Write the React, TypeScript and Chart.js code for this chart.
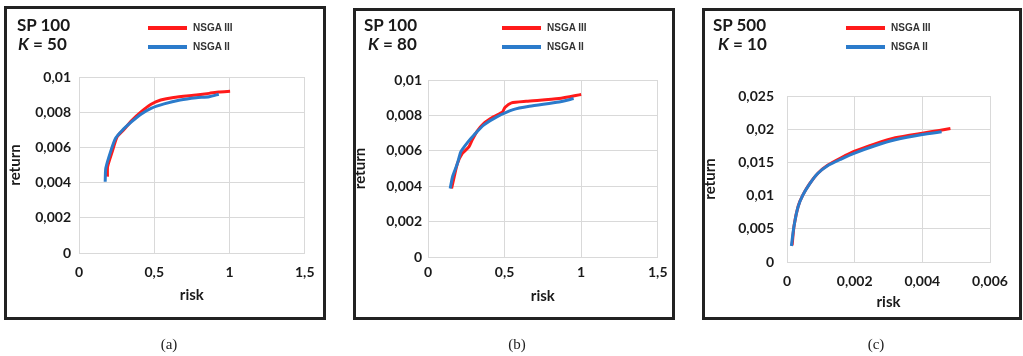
import React, { useEffect, useRef } from 'react';
import { Chart, registerables } from 'chart.js';

Chart.register(...registerables);

// ---------- DATA ----------
const seriesNames = ['NSGA III', 'NSGA II'];

// Panel (a) SP 100, K = 50
const riskA_III = [0.189, 0.19, 0.221, 0.253, 0.296, 0.35, 0.414, 0.479, 0.543, 0.629, 0.779, 0.865, 0.929, 1.004];
const returnA_III = [0.00434, 0.0049, 0.00576, 0.0066, 0.00699, 0.00752, 0.00803, 0.00845, 0.00869, 0.00884, 0.00898, 0.00907, 0.00915, 0.00919];
const riskA_II = [0.174, 0.178, 0.21, 0.243, 0.285, 0.35, 0.414, 0.479, 0.565, 0.672, 0.779, 0.865, 0.929];
const returnA_II = [0.00405, 0.00481, 0.00576, 0.00652, 0.00695, 0.00746, 0.0079, 0.00822, 0.00847, 0.00869, 0.00882, 0.00888, 0.00902];

// Panel (b) SP 100, K = 80
const riskB_III = [0.154, 0.171, 0.192, 0.224, 0.267, 0.288, 0.32, 0.363, 0.427, 0.487, 0.502, 0.545, 0.641, 0.855, 1.0];
const returnB_III = [0.00387, 0.00453, 0.00528, 0.00585, 0.00622, 0.0066, 0.0071, 0.00754, 0.00792, 0.0082, 0.00845, 0.00871, 0.0088, 0.00895, 0.00918];
const riskB_II = [0.145, 0.16, 0.192, 0.214, 0.256, 0.299, 0.363, 0.449, 0.556, 0.662, 0.855, 0.951];
const returnB_II = [0.00387, 0.00453, 0.00528, 0.00594, 0.00645, 0.00688, 0.00745, 0.00792, 0.00833, 0.00852, 0.00876, 0.00895];

// Panel (c) SP 500, K = 10
const riskC_III = [0.00015, 0.00021, 0.00033, 0.00047, 0.00067, 0.00092, 0.00121, 0.0016, 0.002, 0.0026, 0.0032, 0.004, 0.0045, 0.00483];
const returnC_III = [0.0025, 0.0055, 0.0084, 0.0101, 0.0118, 0.0134, 0.0146, 0.0157, 0.0167, 0.0178, 0.0187, 0.0194, 0.0198, 0.0201];
const riskC_II = [0.00013, 0.0002, 0.00032, 0.00046, 0.00066, 0.0009, 0.0012, 0.0016, 0.002, 0.0026, 0.0032, 0.004, 0.00457];
const returnC_II = [0.0024, 0.0052, 0.0082, 0.01, 0.0117, 0.0133, 0.0145, 0.0155, 0.0164, 0.0175, 0.0184, 0.0192, 0.0196];

// Tick labels
const xTicksAB = ['0', '0,5', '1', '1,5'];
const yTicksAB = ['0', '0,002', '0,004', '0,006', '0,008', '0,01'];
const xTicksC = ['0', '0,002', '0,004', '0,006'];
const yTicksC = ['0', '0,005', '0,01', '0,015', '0,02', '0,025'];

// ---------- STYLE ----------
const RED = '#ff1a1a';
const BLUE = '#2b7bcb';
const GRID = '#d9d9d9';
const TEXT = '#1a1a1a';
const FONT = 'Lato, "Open Sans", sans-serif';
const AXIS_TITLE_SIZE = 15;

type Rect = { x: number; y: number; w: number; h: number };
type Area = { l: number; r: number; t: number; b: number };

type PanelCfg = {
  box: Rect;
  area: Area;
  yTitleX: number;
  xTitleY: number;
  xTickPad: number;
  yTickPad: number;
  xMax: number;
  xStep: number;
  yMax: number;
  yStep: number;
  xLabels: string[];
  yLabels: string[];
  risk3: number[];
  ret3: number[];
  risk2: number[];
  ret2: number[];
  title: string;
  k: string;
  titleX: number;
  kX: number;
  legendX: number;
  caption: string;
  captionX: number;
};

const panels: PanelCfg[] = [
  {
    box: { x: 4, y: 6, w: 322, h: 314 },
    area: { l: 79, r: 312, t: 77, b: 253 },
    yTitleX: 15.5, xTitleY: 295, xTickPad: 11.5, yTickPad: 8,
    xMax: 1.5, xStep: 0.5, yMax: 0.01, yStep: 0.002,
    xLabels: xTicksAB, yLabels: yTicksAB,
    risk3: riskA_III, ret3: returnA_III, risk2: riskA_II, ret2: returnA_II,
    title: 'SP 100', k: '50', titleX: 17, kX: 18, legendX: 148,
    caption: '(a)', captionX: 169,
  },
  {
    box: { x: 353, y: 8, w: 322, h: 312 },
    area: { l: 428, r: 662, t: 80, b: 257 },
    yTitleX: 360.5, xTitleY: 296, xTickPad: 7.5, yTickPad: 6,
    xMax: 1.5, xStep: 0.5, yMax: 0.01, yStep: 0.002,
    xLabels: xTicksAB, yLabels: yTicksAB,
    risk3: riskB_III, ret3: returnB_III, risk2: riskB_II, ret2: returnB_II,
    title: 'SP 100', k: '80', titleX: 364, kX: 368, legendX: 502,
    caption: '(b)', captionX: 517,
  },
  {
    box: { x: 702, y: 8, w: 320, h: 312 },
    area: { l: 787, r: 990, t: 96, b: 262 },
    yTitleX: 710, xTitleY: 302, xTickPad: 11.5, yTickPad: 13,
    xMax: 0.006, xStep: 0.002, yMax: 0.025, yStep: 0.005,
    xLabels: xTicksC, yLabels: yTicksC,
    risk3: riskC_III, ret3: returnC_III, risk2: riskC_II, ret2: returnC_II,
    title: 'SP 500', k: '10', titleX: 713, kX: 718, legendX: 846,
    caption: '(c)', captionX: 876,
  },
];

function toPoints(xs: number[], ys: number[]) {
  return xs.map((x, i) => ({ x, y: ys[i] }));
}

function Panel({ cfg }: { cfg: PanelCfg }) {
  const ref = useRef<HTMLCanvasElement | null>(null);

  useEffect(() => {
    if (!ref.current) return;
    const b = cfg.box;
    const padLeft = Math.max(0, cfg.yTitleX - b.x - AXIS_TITLE_SIZE / 2);
    const yW = cfg.area.l - b.x - padLeft;
    const padTop = cfg.area.t - b.y;
    const padRight = b.x + b.w - cfg.area.r;
    const scaleBottom = cfg.xTitleY + AXIS_TITLE_SIZE / 2;
    const xH = scaleBottom - cfg.area.b;
    const padBottom = b.y + b.h - scaleBottom;

    const tickFont = { family: FONT, size: 14, weight: 'bold' as const };
    const titleFont = { family: FONT, size: AXIS_TITLE_SIZE, weight: 'bold' as const, lineHeight: 1 };

    const chart = new Chart(ref.current, {
      type: 'scatter',
      data: {
        datasets: [
          {
            label: seriesNames[1],
            data: toPoints(cfg.risk2, cfg.ret2),
            showLine: true,
            borderColor: BLUE,
            backgroundColor: BLUE,
            borderWidth: 3,
            pointRadius: 0,
            tension: 0.2,
          },
          {
            label: seriesNames[0],
            data: toPoints(cfg.risk3, cfg.ret3),
            showLine: true,
            borderColor: RED,
            backgroundColor: RED,
            borderWidth: 3,
            pointRadius: 0,
            tension: 0.2,
          },
        ],
      },
      options: {
        animation: false,
        responsive: false,
        maintainAspectRatio: false,
        events: [],
        layout: { padding: { left: padLeft, top: padTop, right: padRight, bottom: padBottom } },
        plugins: { legend: { display: false }, tooltip: { enabled: false } },
        scales: {
          x: {
            type: 'linear',
            min: 0,
            max: cfg.xMax,
            ticks: {
              stepSize: cfg.xStep,
              autoSkip: false,
              maxRotation: 0,
              padding: cfg.xTickPad,
              font: tickFont,
              color: TEXT,
              callback: (_v: any, i: number) => cfg.xLabels[i],
            },
            grid: { color: GRID, drawTicks: false, lineWidth: 1 },
            border: { color: GRID },
            title: { display: true, text: 'risk', font: titleFont, color: TEXT, padding: 0 },
            afterFit: (s: any) => {
              s.height = xH;
            },
          },
          y: {
            type: 'linear',
            min: 0,
            max: cfg.yMax,
            ticks: {
              stepSize: cfg.yStep,
              autoSkip: false,
              padding: cfg.yTickPad,
              font: tickFont,
              color: TEXT,
              callback: (_v: any, i: number) => cfg.yLabels[i],
            },
            grid: { color: GRID, drawTicks: false, lineWidth: 1 },
            border: { color: GRID },
            title: { display: true, text: 'return', font: titleFont, color: TEXT, padding: 0 },
            afterFit: (s: any) => {
              s.width = yW;
            },
          },
        },
      } as any,
    });
    return () => chart.destroy();
  }, [cfg]);

  const b = cfg.box;
  const legendRows = [
    { name: seriesNames[0], color: RED, y: 28 },
    { name: seriesNames[1], color: BLUE, y: 47 },
  ];

  return (
    <>
      <canvas
        ref={ref}
        width={b.w}
        height={b.h}
        style={{ position: 'absolute', left: b.x, top: b.y, width: b.w, height: b.h }}
      />
      <div
        style={{
          position: 'absolute',
          left: b.x,
          top: b.y,
          width: b.w,
          height: b.h,
          border: '3px solid #222',
          boxSizing: 'border-box',
          pointerEvents: 'none',
        }}
      />
      <div
        style={{
          position: 'absolute',
          left: cfg.titleX,
          top: 15,
          font: `bold 17px ${FONT}`,
          lineHeight: '20px',
          color: TEXT,
          whiteSpace: 'nowrap',
        }}
      >
        {cfg.title}
      </div>
      <div
        style={{
          position: 'absolute',
          left: cfg.kX,
          top: 34,
          font: `bold 17px ${FONT}`,
          lineHeight: '20px',
          color: TEXT,
          whiteSpace: 'nowrap',
        }}
      >
        <i>K</i> = {cfg.k}
      </div>
      {legendRows.map((r) => (
        <React.Fragment key={r.name}>
          <div
            style={{
              position: 'absolute',
              left: cfg.legendX,
              top: r.y - 1.75,
              width: 39,
              height: 3.5,
              background: r.color,
            }}
          />
          <div
            style={{
              position: 'absolute',
              left: cfg.legendX + 45,
              top: r.y - 7,
              font: 'bold 10px "Liberation Sans", Arial, sans-serif',
              lineHeight: '14px',
              color: '#333',
              whiteSpace: 'nowrap',
            }}
          >
            {r.name}
          </div>
        </React.Fragment>
      ))}
      <div
        style={{
          position: 'absolute',
          left: cfg.captionX - 30,
          width: 60,
          top: 335,
          textAlign: 'center',
          font: '15px "Liberation Serif", serif',
          lineHeight: '18px',
          color: '#222',
        }}
      >
        {cfg.caption}
      </div>
    </>
  );
}

export default function App() {
  return (
    <div
      style={{
        position: 'absolute',
        left: 0,
        top: 0,
        width: 1023,
        height: 356,
        background: '#fff',
        overflow: 'hidden',
      }}
    >
      {panels.map((p) => (
        <Panel key={p.caption} cfg={p} />
      ))}
    </div>
  );
}
